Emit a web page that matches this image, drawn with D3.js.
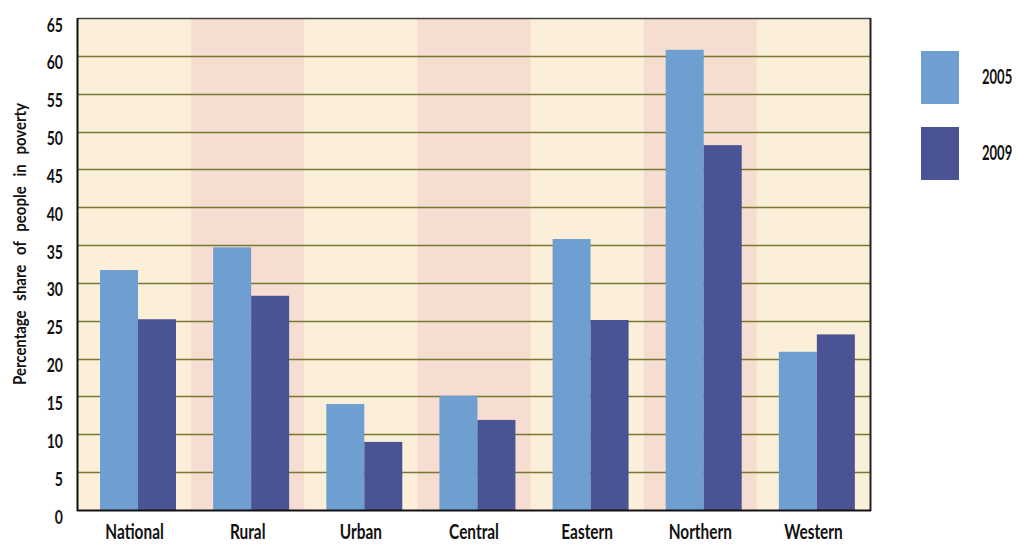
<!DOCTYPE html>
<html>
<head>
<meta charset="utf-8">
<script src="https://cdn.jsdelivr.net/npm/d3@7"></script>
<style>
  html, body { margin: 0; padding: 0; background: #fff; }
  svg text { font-family: Lato, "Open Sans", sans-serif; fill: #111; }
</style>
</head>
<body>
<svg id="chart" width="1018" height="544"></svg>
<script>
// Poverty headcount by region, two survey years
const categories = ["National", "Rural", "Urban", "Central", "Eastern", "Northern", "Western"];
const years = ["2005", "2009"];
const values2005 = [31.7, 34.7, 14.0, 15.1, 35.8, 60.8, 20.9];
const values2009 = [25.2, 28.3, 9.0, 11.9, 25.1, 48.2, 23.2];
const yTicks = [0, 5, 10, 15, 20, 25, 30, 35, 40, 45, 50, 55, 60, 65];

const colors = { "2005": "#6e9fd0", "2009": "#4a5394" };
const bandFill = ["#fcefd9", "#f6ddd1"];
const FONT = 'Lato, "Open Sans", sans-serif';
const SX = 0.74; // horizontal squeeze giving a condensed face

const svg = d3.select("#chart");
const plot = { left: 78, right: 870, top: 18, bottom: 510 };

const x = d3.scaleBand().domain(categories).range([plot.left, plot.right]).padding(0);
const y = d3.scaleLinear().domain([0, 65]).range([plot.bottom, plot.top]);
// bar pair sits slightly left of the band centre
const inner = d3.scaleBand().domain(years).range([22, 98]).padding(0);

// squeeze text horizontally while keeping its anchor point
function condense(sel, sx) {
  sel.each(function () {
    const t = d3.select(this);
    const x0 = +(t.attr("x") || 0);
    const prev = t.attr("transform") || "";
    t.attr("x", x0 / sx).attr("transform", `${prev} scale(${sx},1)`);
  });
}

// alternating column bands
svg.append("g").selectAll("rect").data(categories).join("rect")
  .attr("x", d => x(d))
  .attr("y", plot.top)
  .attr("width", x.bandwidth() + 0.5)
  .attr("height", plot.bottom - plot.top)
  .attr("fill", (d, i) => bandFill[i % 2]);

// horizontal gridlines
svg.append("g").selectAll("line").data(yTicks.filter(t => t > 0 && t < 65)).join("line")
  .attr("x1", plot.left).attr("x2", plot.right)
  .attr("y1", d => Math.round(y(d)) + 0.5).attr("y2", d => Math.round(y(d)) + 0.5)
  .attr("stroke", "#76792f").attr("stroke-width", 1.5);

// bars
const rows = categories.map((c, i) => ({ c, v: { "2005": values2005[i], "2009": values2009[i] } }));
const groups = svg.append("g").selectAll("g").data(rows).join("g")
  .attr("transform", d => `translate(${x(d.c)},0)`);
groups.selectAll("rect").data(d => years.map(yr => ({ yr, v: d.v[yr] }))).join("rect")
  .attr("x", d => inner(d.yr))
  .attr("width", inner.bandwidth())
  .attr("y", d => y(d.v))
  .attr("height", d => y(0) - y(d.v))
  .attr("fill", d => colors[d.yr]);

// frame
svg.append("line").attr("x1", plot.left).attr("x2", plot.right + 1)
  .attr("y1", plot.top + 0.5).attr("y2", plot.top + 0.5)
  .attr("stroke", "#444").attr("stroke-width", 1.5);
svg.append("line").attr("x1", plot.left - 0.5).attr("x2", plot.left - 0.5)
  .attr("y1", plot.top).attr("y2", plot.bottom + 1)
  .attr("stroke", "#111").attr("stroke-width", 2);
svg.append("line").attr("x1", plot.right + 0.5).attr("x2", plot.right + 0.5)
  .attr("y1", plot.top).attr("y2", plot.bottom + 1)
  .attr("stroke", "#222").attr("stroke-width", 2);
svg.append("line").attr("x1", plot.left - 1).attr("x2", plot.right + 1)
  .attr("y1", plot.bottom + 0.5).attr("y2", plot.bottom + 0.5)
  .attr("stroke", "#111").attr("stroke-width", 2);

// y axis labels
const yAxis = d3.axisLeft(y).tickValues(yTicks).tickSize(0).tickPadding(15);
const ya = svg.append("g").attr("transform", `translate(${plot.left},0)`).call(yAxis);
ya.select(".domain").remove();
ya.selectAll("text")
  .style("font-family", FONT).style("font-size", "19px").style("font-weight", "bold")
  .attr("fill", "#111").attr("dy", null).attr("y", 13)
  .call(condense, SX);

// x axis labels
const xAxis = d3.axisBottom(x).tickSize(0);
const xa = svg.append("g").attr("transform", `translate(0,${plot.bottom})`).call(xAxis);
xa.select(".domain").remove();
xa.selectAll("text")
  .style("font-family", FONT).style("font-size", "20px").style("font-weight", "bold")
  .attr("fill", "#111").attr("dy", null).attr("y", 29)
  .call(condense, 0.77);

// y axis title
svg.append("text")
  .attr("transform", `translate(26,${244}) rotate(-90)`)
  .attr("text-anchor", "middle")
  .style("font-size", "17px").style("font-weight", "bold").style("word-spacing", "7px")
  .text("Percentage share of people in poverty")
  .call(condense, 0.88);

// legend
const legend = svg.append("g").selectAll("g").data(years).join("g")
  .attr("transform", (d, i) => `translate(921,${51 + i * 76})`);
legend.append("rect").attr("width", 38).attr("height", 53).attr("fill", d => colors[d]);
legend.append("text").attr("x", 61).attr("y", 33)
  .style("font-size", "21px").style("font-weight", "bold")
  .text(d => d)
  .call(condense, 0.62);
</script>
</body>
</html>
